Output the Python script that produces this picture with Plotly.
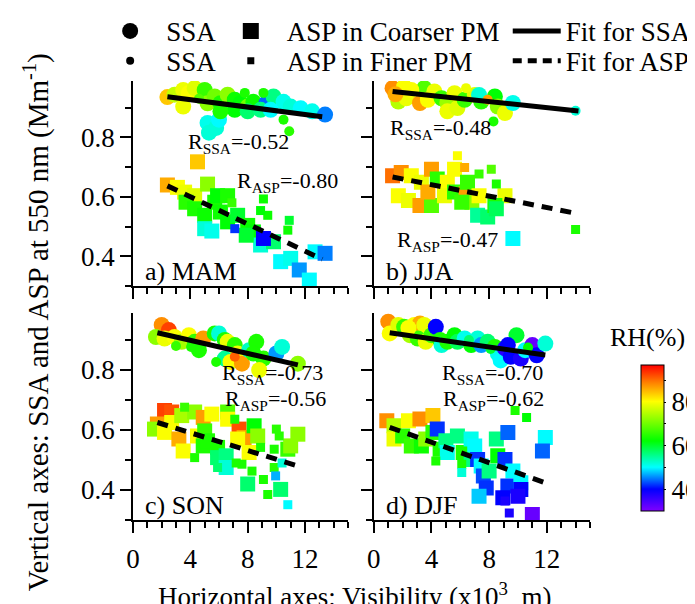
import plotly.graph_objects as go

FONT = "Liberation Serif"

# (visibility x10^3 m, value, RH %)
MAM_SSA_COARSE = [(2.4, 0.936, 84), (2.9, 0.944, 76), (3.5, 0.96, 79), (3.9, 0.95, 80), (4.5, 0.944, 80),
                  (3.5, 0.904, 79), (4.3, 0.966, 78), (5.0, 0.96, 66), (5.2, 0.915, 72), (5.7, 0.938, 70),
                  (6.1, 0.915, 64), (6.6, 0.944, 72), (7.1, 0.927, 63), (7.5, 0.915, 62), (8.0, 0.904, 70),
                  (8.4, 0.92, 63), (9.3, 0.915, 44), (9.8, 0.938, 56), (10.5, 0.92, 51), (11.0, 0.904, 52),
                  (11.7, 0.898, 50), (12.5, 0.888, 51), (13.4, 0.877, 45), (5.2, 0.849, 51), (5.8, 0.832, 52),
                  (6.0, 0.86, 50), (5.3, 0.816, 52), (7.1, 0.893, 62), (8.0, 0.888, 57), (8.9, 0.893, 56),
                  (6.1, 0.888, 64), (9.6, 0.893, 50)]
MAM_SSA_FINE = [(9.1, 0.95, 64), (10.5, 0.86, 64), (10.9, 0.821, 65), (4.6, 0.93, 68), (7.8, 0.95, 64)]
MAM_ASP_COARSE = [(4.5, 0.718, 84), (2.4, 0.64, 86), (3.1, 0.632, 80), (3.6, 0.616, 79), (4.3, 0.604, 78),
                  (5.2, 0.643, 72), (3.7, 0.582, 65), (4.3, 0.56, 64), (5.0, 0.538, 63), (5.7, 0.582, 64),
                  (5.9, 0.604, 62), (6.6, 0.604, 64), (6.1, 0.549, 63), (6.6, 0.516, 62), (7.3, 0.538, 60),
                  (8.0, 0.504, 63), (8.4, 0.482, 62), (5.0, 0.493, 52), (5.5, 0.485, 51), (8.9, 0.438, 52),
                  (10.3, 0.382, 50), (11.0, 0.393, 51), (11.6, 0.354, 46), (12.3, 0.32, 50), (12.7, 0.415, 50),
                  (13.4, 0.41, 45), (9.8, 0.449, 57), (7.9, 0.471, 60), (9.1, 0.46, 40)]
MAM_ASP_FINE = [(9.1, 0.593, 63), (9.4, 0.538, 63), (8.9, 0.554, 62), (7.1, 0.493, 42), (10.8, 0.488, 63),
                (10.9, 0.521, 60), (6.9, 0.58, 66)]

JJA_SSA_COARSE = [(1.3, 0.966, 88), (2.1, 0.971, 80), (1.7, 0.921, 75), (2.25, 0.932, 79), (3.2, 0.916, 87),
                  (3.5, 0.966, 68), (3.75, 0.927, 80), (4.2, 0.955, 79), (4.7, 0.932, 66), (5.1, 0.916, 73),
                  (5.6, 0.949, 79), (5.1, 0.888, 79), (5.8, 0.899, 78), (6.3, 0.927, 66), (7.0, 0.943, 78),
                  (7.45, 0.921, 65), (8.4, 0.938, 62), (8.6, 0.904, 72), (9.1, 0.882, 79), (9.65, 0.916, 51),
                  (7.3, 0.943, 52), (2.6, 0.96, 80), (1.5, 0.945, 86)]
JJA_SSA_FINE = [(6.4, 0.966, 79), (7.9, 0.927, 87), (8.3, 0.854, 64), (14.0, 0.89, 52)]
JJA_ASP_COARSE = [(1.3, 0.671, 90), (1.9, 0.682, 88), (2.6, 0.671, 80), (3.3, 0.649, 79), (4.0, 0.693, 87),
                  (4.4, 0.66, 65), (5.1, 0.649, 80), (1.7, 0.604, 80), (2.4, 0.588, 79), (3.2, 0.571, 87),
                  (4.0, 0.571, 68), (3.75, 0.616, 86), (4.9, 0.604, 79), (5.6, 0.616, 65), (5.6, 0.693, 80),
                  (6.4, 0.61, 87), (6.5, 0.649, 66), (6.8, 0.582, 72), (6.1, 0.582, 66), (7.3, 0.604, 80),
                  (9.1, 0.604, 79), (7.2, 0.538, 55), (7.9, 0.532, 57), (8.4, 0.571, 64), (8.5, 0.56, 58),
                  (9.65, 0.46, 50)]
JJA_ASP_FINE = [(5.8, 0.738, 80), (6.3, 0.699, 86), (7.3, 0.677, 66), (8.15, 0.693, 68), (8.5, 0.643, 64),
                (14.0, 0.49, 64)]

SON_SSA_COARSE = [(2.0, 0.95, 88), (2.5, 0.933, 93), (1.6, 0.91, 72), (2.2, 0.905, 79), (2.9, 0.91, 80),
                  (3.4, 0.894, 74), (3.9, 0.916, 80), (4.3, 0.894, 66), (4.9, 0.905, 87), (4.6, 0.866, 64),
                  (5.7, 0.922, 64), (6.0, 0.922, 52), (6.4, 0.9, 64), (6.6, 0.894, 79), (7.1, 0.883, 65),
                  (7.3, 0.855, 79), (6.4, 0.838, 55), (6.8, 0.827, 80), (7.6, 0.821, 87), (8.1, 0.866, 53),
                  (8.6, 0.894, 64), (9.1, 0.838, 65), (10.0, 0.855, 46), (10.4, 0.877, 52), (8.8, 0.8, 79),
                  (11.5, 0.821, 72), (8.4, 0.855, 64)]
SON_SSA_FINE = [(4.05, 0.877, 64), (5.8, 0.827, 64), (7.1, 0.844, 91), (3.0, 0.88, 66)]
SON_ASP_COARSE = [(2.2, 0.665, 93), (2.7, 0.66, 92), (1.7, 0.62, 87), (1.5, 0.603, 72), (2.2, 0.592, 80),
                  (2.7, 0.625, 80), (3.4, 0.648, 74), (3.2, 0.57, 86), (3.5, 0.53, 80), (4.3, 0.66, 72),
                  (4.9, 0.642, 87), (5.5, 0.653, 80), (6.6, 0.66, 68), (6.6, 0.636, 80), (4.5, 0.58, 80),
                  (5.0, 0.597, 66), (4.9, 0.547, 64), (5.2, 0.564, 64), (5.9, 0.542, 64), (5.9, 0.508, 57),
                  (6.5, 0.514, 56), (7.4, 0.603, 92), (7.75, 0.575, 87), (7.3, 0.57, 80), (8.45, 0.614, 62),
                  (8.7, 0.58, 72), (8.1, 0.525, 80), (6.5, 0.475, 52), (10.8, 0.536, 66), (11.0, 0.547, 72),
                  (11.5, 0.586, 72), (8.0, 0.42, 57), (10.3, 0.402, 57)]
SON_ASP_FINE = [(3.6, 0.676, 66), (4.3, 0.508, 64), (7.1, 0.636, 64), (7.6, 0.486, 64), (7.2, 0.49, 64),
                (5.9, 0.475, 57), (8.3, 0.463, 64), (8.9, 0.542, 64), (9.1, 0.435, 64), (9.85, 0.475, 65),
                (9.95, 0.447, 47), (10.0, 0.603, 65), (10.2, 0.58, 65), (9.85, 0.536, 64), (10.4, 0.49, 52),
                (9.4, 0.385, 64), (10.8, 0.351, 50)]

DJF_SSA_COARSE = [(1.0, 0.961, 88), (1.1, 0.922, 80), (1.7, 0.95, 78), (2.1, 0.944, 66), (2.5, 0.916, 74),
                  (2.8, 0.95, 80), (3.2, 0.955, 86), (3.5, 0.95, 79), (3.05, 0.905, 66), (3.6, 0.894, 79),
                  (4.0, 0.916, 66), (4.3, 0.944, 40), (4.6, 0.9, 64), (4.7, 0.883, 52), (5.1, 0.894, 64),
                  (5.6, 0.916, 62), (5.8, 0.894, 58), (6.3, 0.905, 51), (6.75, 0.883, 62), (7.2, 0.905, 52),
                  (7.45, 0.883, 46), (7.9, 0.894, 57), (8.4, 0.877, 64), (8.6, 0.855, 51), (8.8, 0.832, 50),
                  (9.1, 0.872, 37), (9.5, 0.844, 40), (9.9, 0.916, 60), (10.2, 0.838, 38), (10.5, 0.866, 50),
                  (11.0, 0.883, 32), (11.3, 0.849, 40), (11.9, 0.888, 52), (9.3, 0.883, 40), (2.4, 0.94, 80)]
DJF_SSA_FINE = [(6.6, 0.9, 57), (8.1, 0.87, 60), (10.7, 0.875, 62)]
DJF_ASP_COARSE = [(0.9, 0.631, 88), (1.4, 0.614, 75), (2.4, 0.631, 80), (3.2, 0.637, 88), (4.1, 0.648, 84),
                  (1.4, 0.57, 79), (2.0, 0.58, 65), (2.6, 0.547, 66), (3.3, 0.547, 63), (3.6, 0.57, 72),
                  (4.1, 0.592, 65), (4.4, 0.603, 42), (4.6, 0.536, 64), (5.0, 0.564, 56), (5.1, 0.525, 51),
                  (5.8, 0.58, 56), (6.2, 0.525, 64), (6.75, 0.57, 51), (7.0, 0.547, 50), (6.75, 0.502, 56),
                  (7.2, 0.502, 42), (7.45, 0.48, 50), (7.6, 0.447, 43), (7.8, 0.407, 42), (7.3, 0.379, 48),
                  (8.0, 0.463, 56), (8.5, 0.57, 56), (8.6, 0.514, 62), (9.3, 0.592, 44), (9.1, 0.502, 42),
                  (9.65, 0.463, 50), (9.3, 0.413, 42), (8.95, 0.374, 40), (10.2, 0.424, 50), (10.2, 0.402, 40),
                  (11.0, 0.318, 32), (11.9, 0.575, 50), (11.7, 0.53, 44), (10.0, 0.379, 38)]
DJF_ASP_FINE = [(4.3, 0.497, 64), (6.1, 0.486, 64), (6.1, 0.458, 52), (9.8, 0.665, 64), (10.6, 0.642, 62),
                (9.1, 0.363, 38), (9.4, 0.323, 38)]

# fit line end points (visibility, value)
FIT_SSA = {"MAM": [(2.4, 0.937), (13.2, 0.87)], "JJA": [(1.3, 0.955), (14.2, 0.889)],
           "SON": [(1.7, 0.924), (11.5, 0.817)], "DJF": [(1.1, 0.924), (11.9, 0.85)]}
FIT_ASP = {"MAM": [(2.4, 0.637), (13.2, 0.39)], "JJA": [(1.3, 0.667), (14.2, 0.543)],
           "SON": [(1.7, 0.625), (11.5, 0.48)], "DJF": [(1.1, 0.609), (11.9, 0.424)]}

R_SSA = {"MAM": "-0.52", "JJA": "-0.48", "SON": "-0.73", "DJF": "-0.70"}
R_ASP = {"MAM": "-0.80", "JJA": "-0.47", "SON": "-0.56", "DJF": "-0.62"}
# label anchor positions (x, y) in data units
R_SSA_POS = {"MAM": (3.7, 0.78), "JJA": (1.0, 0.827), "SON": (6.1, 0.787), "DJF": (4.6, 0.787)}
R_ASP_POS = {"MAM": (7.15, 0.65), "JJA": (1.45, 0.453), "SON": (6.25, 0.70), "DJF": (4.65, 0.70)}

PANELS = [("a) MAM", "MAM", MAM_SSA_COARSE, MAM_SSA_FINE, MAM_ASP_COARSE, MAM_ASP_FINE),
          ("b) JJA", "JJA", JJA_SSA_COARSE, JJA_SSA_FINE, JJA_ASP_COARSE, JJA_ASP_FINE),
          ("c) SON", "SON", SON_SSA_COARSE, SON_SSA_FINE, SON_ASP_COARSE, SON_ASP_FINE),
          ("d) DJF", "DJF", DJF_SSA_COARSE, DJF_SSA_FINE, DJF_ASP_COARSE, DJF_ASP_FINE)]

RH_COLORS = [[0.0, "#8000ff"], [0.15, "#0000ff"], [0.30, "#00ffff"], [0.48, "#00ff00"],
             [0.75, "#ffff00"], [0.88, "#ff8000"], [1.0, "#ff0000"]]

fig = go.Figure()


def pts(data, sym, size, xa, ya):
    return go.Scatter(x=[p[0] for p in data], y=[p[1] for p in data], mode="markers",
                      marker=dict(symbol=sym, size=size, color=[p[2] for p in data],
                                  coloraxis="coloraxis", line=dict(width=0)),
                      xaxis=xa, yaxis=ya, showlegend=False, hoverinfo="skip")


for i, (label, key, sc, sf, ac, af) in enumerate(PANELS):
    n = "" if i == 0 else str(i + 1)
    xa, ya = "x" + n, "y" + n
    fig.add_trace(pts(ac, "square", 15, xa, ya))
    fig.add_trace(pts(af, "square", 9, xa, ya))
    fig.add_trace(pts(sc, "circle", 16, xa, ya))
    fig.add_trace(pts(sf, "circle", 10, xa, ya))
    fs, fa = FIT_SSA[key], FIT_ASP[key]
    fig.add_trace(go.Scatter(x=[p[0] for p in fs], y=[p[1] for p in fs], mode="lines",
                             line=dict(color="black", width=5), xaxis=xa, yaxis=ya,
                             showlegend=False, hoverinfo="skip"))
    fig.add_trace(go.Scatter(x=[p[0] for p in fa], y=[p[1] for p in fa], mode="lines",
                             line=dict(color="black", width=5, dash="11px,8px"), xaxis=xa, yaxis=ya,
                             showlegend=False, hoverinfo="skip"))
    fig.add_annotation(x=0.7, y=0.35, xref=xa, yref=ya, text=label, showarrow=False,
                       xanchor="left", yanchor="middle", font=dict(size=26))
    fig.add_annotation(x=R_SSA_POS[key][0], y=R_SSA_POS[key][1], xref=xa, yref=ya,
                       text="R<sub>SSA</sub>=" + R_SSA[key], showarrow=False,
                       xanchor="left", yanchor="middle", font=dict(size=22))
    fig.add_annotation(x=R_ASP_POS[key][0], y=R_ASP_POS[key][1], xref=xa, yref=ya,
                       text="R<sub>ASP</sub>=" + R_ASP[key], showarrow=False,
                       xanchor="left", yanchor="middle", font=dict(size=22))

# legend-only entries, one legend per cell of the 3x2 key
legend_items = [
    ("SSA", dict(mode="markers", marker=dict(symbol="circle", size=16, color="black")), "legend"),
    ("SSA", dict(mode="markers", marker=dict(symbol="circle", size=8, color="black")), "legend2"),
    ("ASP in Coarser PM", dict(mode="markers", marker=dict(symbol="square", size=16, color="black")), "legend3"),
    ("ASP in Finer PM", dict(mode="markers", marker=dict(symbol="square", size=7, color="black")), "legend4"),
    ("Fit for SSA", dict(mode="lines", line=dict(color="black", width=5)), "legend5"),
    ("Fit for ASP", dict(mode="lines", line=dict(color="black", width=5, dash="9px,6px")), "legend6"),
]
for name, style, lg in legend_items:
    fig.add_trace(go.Scatter(x=[None], y=[None], name=name, legend=lg, showlegend=True, **style))

axis_common = dict(showline=True, linecolor="black", linewidth=1.5, ticks="outside", ticklen=11,
                   tickwidth=1.5, tickcolor="black", showgrid=False, zeroline=False,
                   tickfont=dict(size=27), mirror=False)
xdom = [[0, 0.4705], [0.527, 1]]
ydom = [[0.533, 1], [0, 0.4715]]
for i in range(4):
    n = "" if i == 0 else str(i + 1)
    r, c = divmod(i, 2)
    fig.layout["xaxis" + n] = dict(axis_common, domain=xdom[c], anchor="y" + n, range=[0, 15],
                                   tickmode="array", tickvals=[0, 4, 8, 12], ticklabelstandoff=3,
                                   minor=dict(ticks="outside", dtick=1, ticklen=6, tickwidth=1.5,
                                              tickcolor="black"),
                                   showticklabels=(r == 1))
    fig.layout["yaxis" + n] = dict(axis_common, domain=ydom[r], anchor="x" + n, range=[0.3, 0.99],
                                   tickmode="array", tickvals=[0.4, 0.6, 0.8], tickformat=".1f",
                                   minor=dict(ticks="outside", tickvals=[0.3, 0.5, 0.7, 0.9], ticklen=6,
                                              tickwidth=1.5, tickcolor="black"),
                                   showticklabels=(c == 0))

leg_common = dict(orientation="v", yanchor="middle", xanchor="left", bgcolor="rgba(0,0,0,0)",
                  font=dict(size=27), itemsizing="trace")
row1, row2 = 1.113, 1.045
col1, col2, col3 = -0.085, 0.179, 0.82
fig.update_layout(
    width=695, height=604,
    margin=dict(l=125, r=113, t=73, b=92, autoexpand=False),
    paper_bgcolor="white", plot_bgcolor="white",
    font=dict(family=FONT, color="black"),
    legend=dict(leg_common, x=col1, y=row1, itemwidth=62),
    legend2=dict(leg_common, x=col1, y=row2, itemwidth=62),
    legend3=dict(leg_common, x=col2, y=row1, itemwidth=62),
    legend4=dict(leg_common, x=col2, y=row2, itemwidth=62),
    legend5=dict(leg_common, x=col3, y=row1, itemwidth=48),
    legend6=dict(leg_common, x=col3, y=row2, itemwidth=48),
    coloraxis=dict(colorscale=RH_COLORS, cmin=30, cmax=97,
                   colorbar=dict(x=1.1114, xanchor="left", y=0.0205, yanchor="bottom", len=0.3326,
                                 lenmode="fraction", thickness=23, xpad=0, ypad=0,
                                 outlinecolor="black", outlinewidth=1,
                                 tickmode="array", tickvals=[40, 50, 60, 70, 80, 90],
                                 ticktext=["40", "", "60", "", "80", ""], ticks="outside", ticklen=2,
                                 tickcolor="black", tickfont=dict(size=27))),
)

fig.add_annotation(x=1.125, y=0.415, xref="paper", yref="paper", text="RH(%)", showarrow=False,
                   xanchor="center", yanchor="middle", font=dict(size=26))
fig.add_annotation(x=0.486, y=-0.171, xref="paper", yref="paper",
                   text="Horizontal axes: Visibility (x10<sup>3</sup>  m)", showarrow=False,
                   xanchor="center", yanchor="middle", font=dict(size=27))
fig.add_annotation(x=-0.212, y=0.451, xref="paper", yref="paper", textangle=-90,
                   text="Vertical axes: SSA and ASP at 550 nm (Mm<sup>-1</sup>)", showarrow=False,
                   xanchor="center", yanchor="middle", font=dict(size=29))

fig.write_html("out.html")
